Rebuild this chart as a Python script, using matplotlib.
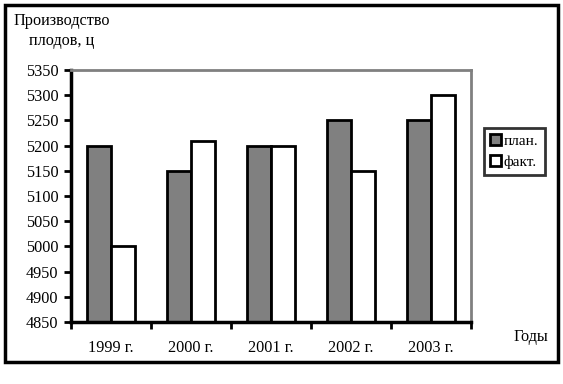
import numpy as np
import matplotlib.pyplot as plt
from matplotlib.patches import Rectangle

plt.rcParams['font.family'] = ['Liberation Serif', 'DejaVu Serif']

years = ['1999 г.', '2000 г.', '2001 г.', '2002 г.', '2003 г.']
plan = [5200, 5150, 5200, 5250, 5250]
fact = [5000, 5210, 5200, 5150, 5300]

W, H = 563, 384
fig = plt.figure(figsize=(W / 100, H / 100), dpi=100)
# plot area in pixels: left 71, right 471, top 70, bottom 322
ax = fig.add_axes([71 / W, 1 - 322 / H, 400 / W, 252 / H])

x = np.arange(len(years))
bw = 0.3
ax.bar(x - bw / 2, plan, bw, bottom=0, color='#808080', edgecolor='black', linewidth=2, label='план.')
ax.bar(x + bw / 2, fact, bw, bottom=0, color='white', edgecolor='black', linewidth=2, label='факт.')

ax.set_xlim(-0.5, len(years) - 0.5)
ax.set_ylim(4850, 5350)
ax.set_yticks(np.arange(4850, 5351, 50))
ax.set_xticks(np.arange(-0.5, len(years), 1))
ax.set_xticklabels([])
ax.set_xticks(x, minor=True)
ax.set_xticklabels(years, minor=True)
ax.tick_params(axis='x', which='minor', length=0, pad=13, labelsize=11.7)
ax.tick_params(axis='x', which='major', direction='out', length=5, width=2)
ax.tick_params(axis='y', direction='out', length=5, width=2, labelsize=11.7, pad=4)

for s in ['left', 'bottom']:
    ax.spines[s].set_linewidth(2.5)
    ax.spines[s].set_color('black')
for s in ['top', 'right']:
    ax.spines[s].set_linewidth(2)
    ax.spines[s].set_color('#808080')

fig.text(13 / W, 1 - 21 / H, 'Производство', fontsize=11.7, va='center', ha='left')
fig.text(29 / W, 1 - 41 / H, 'плодов, ц', fontsize=11.7, va='center', ha='left')
fig.text(513 / W, 1 - 337 / H, 'Годы', fontsize=11.7, va='center', ha='left')

leg = fig.legend(loc='upper left', bbox_to_anchor=(484 / W, 1 - 128 / H),
                 fontsize=11, frameon=True, fancybox=False, handlelength=0.7,
                 handleheight=0.7, handletextpad=0.2, borderpad=0.4,
                 labelspacing=0.5, borderaxespad=0)
leg.get_frame().set_edgecolor('black')
leg.get_frame().set_linewidth(2)

# outer border
fig.patches.append(Rectangle((5 / W, 1 - 362 / H), 553 / W, 357 / H,
                             transform=fig.transFigure, fill=False,
                             edgecolor='black', linewidth=2.5))

fig.savefig('out.png', dpi=100)
